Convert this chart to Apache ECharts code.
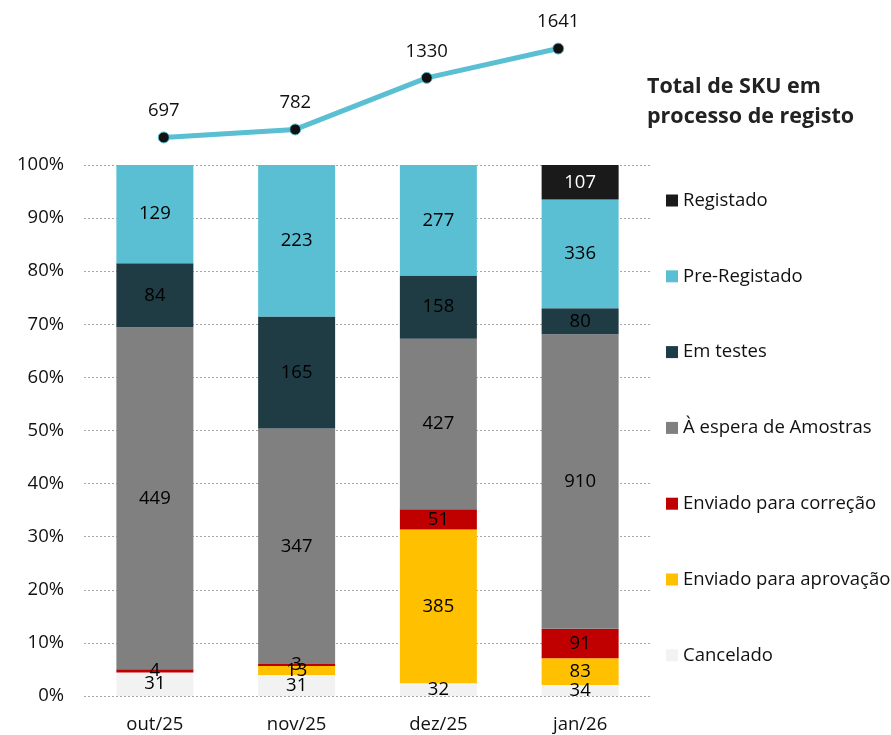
<!DOCTYPE html>
<html><head><meta charset="utf-8">
<script src="https://cdn.jsdelivr.net/npm/echarts@6/dist/echarts.min.js"></script>
<style>html,body{margin:0;padding:0;background:#fff}#c{width:891px;height:735px}</style>
</head><body><div id="c"></div>
<script>
const categories = ['out/25', 'nov/25', 'dez/25', 'jan/26'];
const cancelado = [31, 31, 32, 34];
const aprovacao = [0, 13, 385, 83];
const correcao = [4, 3, 51, 91];
const amostras = [449, 347, 427, 910];
const emTestes = [84, 165, 158, 80];
const preRegistado = [129, 223, 277, 336];
const registado = [0, 0, 0, 107];
const totals = [697, 782, 1330, 1641];
const yTicks = [0, 10, 20, 30, 40, 50, 60, 70, 80, 90, 100];

const FONT = 'Open Sans';
const FS = 18.5;
const seriesDefs = [
  { name: 'Cancelado', data: cancelado, color: '#f2f2f2', label: '#000' },
  { name: 'Enviado para aprovação', data: aprovacao, color: '#ffc000', label: '#000' },
  { name: 'Enviado para correção', data: correcao, color: '#c00000', label: '#000' },
  { name: 'À espera de Amostras', data: amostras, color: '#808080', label: '#000' },
  { name: 'Em testes', data: emTestes, color: '#1f3c44', label: '#000' },
  { name: 'Pre-Registado', data: preRegistado, color: '#5bbfd4', label: '#000' },
  { name: 'Registado', data: registado, color: '#1a1a1a', label: '#fff' }
];

const barSeries = seriesDefs.map(d => ({
  name: d.name,
  type: 'bar',
  stack: 'pct',
  xAxisIndex: 0, yAxisIndex: 0,
  barWidth: 77,
  itemStyle: { color: d.color },
  label: {
    show: true, position: 'inside', color: d.label,
    fontFamily: FONT, fontSize: FS,
    formatter: p => (p.data.raw ? String(p.data.raw) : '')
  },
  emphasis: { disabled: true },
  data: d.data.map((v, i) => ({ value: v / totals[i] * 100, raw: v }))
}));

const chart = echarts.init(document.getElementById('c'));
chart.setOption({
  animation: false,
  textStyle: { fontFamily: FONT },
  title: {
    text: 'Total de SKU em\nprocesso de registo',
    left: 647, top: 72, padding: 0,
    textStyle: { fontFamily: FONT, fontWeight: 'bold', fontSize: 21.5, lineHeight: 30, color: '#222' }
  },
  legend: {
    orient: 'vertical', left: 661, top: 186,
    itemWidth: 12, itemHeight: 12, itemGap: 56.8,
    icon: 'rect',
    textStyle: { fontFamily: FONT, fontSize: FS, color: '#111' },
    data: ['Registado', 'Pre-Registado', 'Em testes', 'À espera de Amostras', 'Enviado para correção', 'Enviado para aprovação', 'Cancelado']
  },
  grid: [
    { left: 84, right: 240, top: 165, bottom: 39 },
    { left: 98, right: 267, top: 43, height: 113 }
  ],
  xAxis: [
    { type: 'category', data: categories, gridIndex: 0,
      axisLine: { show: false }, axisTick: { show: false },
      axisLabel: { fontFamily: FONT, fontSize: FS, color: '#111', margin: 19 } },
    { type: 'category', data: categories, gridIndex: 1, show: false }
  ],
  yAxis: [
    { type: 'value', gridIndex: 0, min: 0, max: 100, interval: 10,
      axisLine: { show: false }, axisTick: { show: false },
      axisLabel: { fontFamily: FONT, fontSize: FS, color: '#111', margin: 20,
        formatter: v => yTicks.includes(v) ? v + '%' : '' },
      splitLine: { lineStyle: { color: '#a6a6a6', type: [2, 2], width: 1 } } },
    { type: 'value', gridIndex: 1, min: 500, max: 1700, show: false }
  ],
  series: barSeries.concat([{
    name: 'Total', type: 'line', xAxisIndex: 1, yAxisIndex: 1,
    data: totals,
    lineStyle: { color: '#5bbfd4', width: 5 },
    symbol: 'circle', symbolSize: 11,
    itemStyle: { color: '#111', borderColor: '#5bbfd4', borderWidth: 1 },
    label: { show: true, position: 'top', distance: 11, fontFamily: FONT, fontSize: FS, color: '#111' },
    emphasis: { disabled: true },
    z: 5
  }])
});
</script></body></html>
